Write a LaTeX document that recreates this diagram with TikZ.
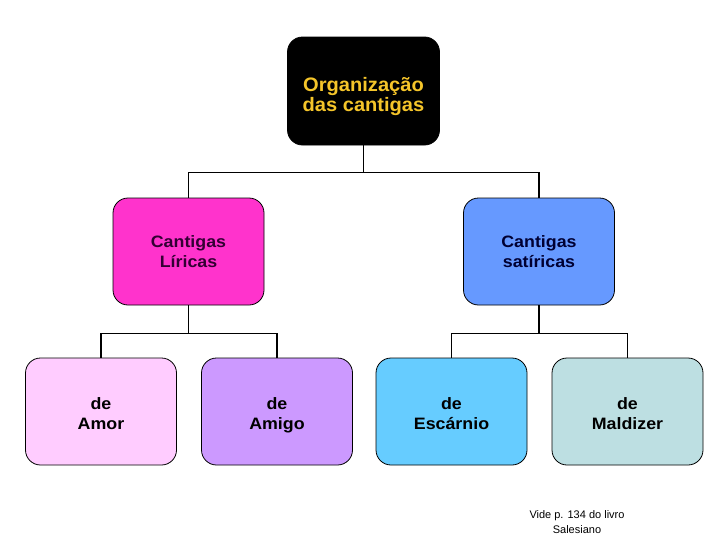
\documentclass[tikz,border=0pt]{standalone}
\usepackage{fontspec}
\setmainfont{Liberation Sans}
\newfontfamily\caixa[FakeStretch=1.08]{Liberation Sans}
\newfontfamily\topo[FakeStretch=1.03]{Liberation Sans}
\usetikzlibrary{positioning}
\definecolor{gold}{HTML}{F5C52A}
\definecolor{lirica}{HTML}{FF33CC}
\definecolor{satirica}{HTML}{6699FF}
\definecolor{amor}{HTML}{FFCCFF}
\definecolor{amigo}{HTML}{CC99FF}
\definecolor{escarnio}{HTML}{66CCFF}
\definecolor{maldizer}{HTML}{BDDFE2}
\newcommand{\linhas}[4]{\rule{0pt}{#3}#1\\#2\rule[-#4]{0pt}{#4}}
\tikzstyle{box}=[draw=black,line width=0.8pt,rounded corners=15pt,minimum width=151pt,minimum height=107pt,inner sep=0pt,align=center,font=\caixa\fontsize{16.5}{20}\selectfont\bfseries]
\tikzstyle{topbox}=[box,minimum width=152pt,minimum height=108pt,fill=black,text=gold,font=\topo\fontsize{19.5}{20}\selectfont\bfseries]
\tikzstyle{edge} = [draw,line width=1.8pt]
\tikzstyle{note} = [align=center,font=\fontsize{11}{15}\selectfont]

\begin{document}
\begin{tikzpicture}[x=1pt,y=-1pt]

    \useasboundingbox (0,0) rectangle (728,546);

    % topo
    \node[topbox] (org) at (363.5,91) {\linhas{Organização}{das cantigas}{25pt}{5pt}};

    % segundo nivel
    \node[box, fill=lirica, text={rgb,255:red,51;green,0;blue,51}] (lir) at (188.5,251.5) {\linhas{Cantigas}{Líricas}{17pt}{5pt}};
    \node[box, fill=satirica, text={rgb,255:red,0;green,0;blue,51}] (sat) at (539,251.5) {\linhas{Cantigas}{satíricas}{17pt}{5pt}};

    % terceiro nivel
    \foreach \x/\name/\cor/\txt in {101/amor/amor/Amor, 277/amigo/amigo/Amigo, 451.5/esc/escarnio/Escárnio, 627.5/mal/maldizer/Maldizer}
        \node[box, fill=\cor] (\name) at (\x,411.5) {\linhas{de}{\txt}{20pt}{5pt}};

    \foreach \dest in {lir, sat}
        \draw[edge] (org.south) -- ++(0,27) -| (\dest.north);

    \foreach \source/\dest in {lir/amor, lir/amigo, sat/esc, sat/mal}
        \draw[edge] (\source.south) -- ++(0,28) -| (\dest.north);

    \node[note] (ref) at (577,522.5) {Vide p. 134 do livro\\Salesiano};

\end{tikzpicture}
\end{document}
